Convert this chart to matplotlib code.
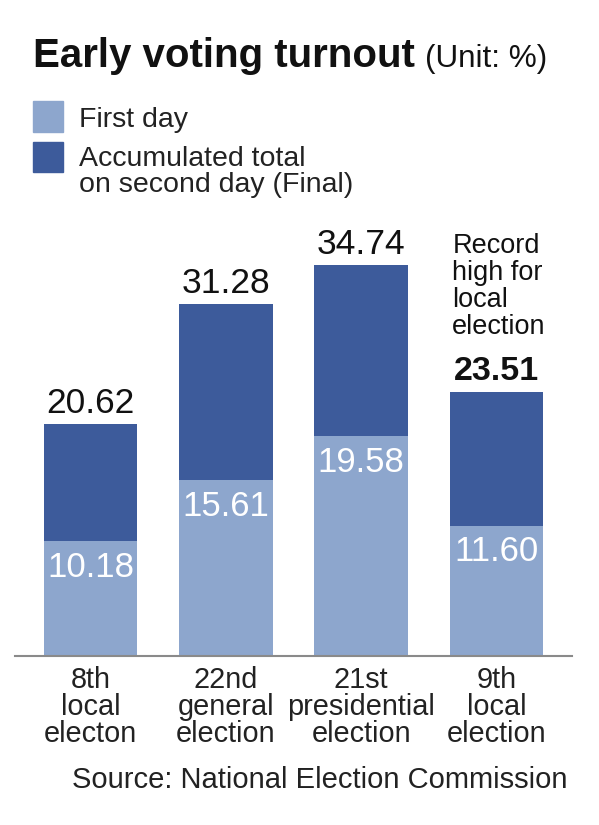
import matplotlib
matplotlib.use('Agg')
import matplotlib.pyplot as plt
from matplotlib.patches import Rectangle

# data
categories = ['8th\nlocal\nelecton', '22nd\ngeneral\nelection',
              '21st\npresidential\nelection', '9th\nlocal\nelection']
first_day = [10.18, 15.61, 19.58, 11.60]
final_total = [20.62, 31.28, 34.74, 23.51]
first_labels = ['10.18', '15.61', '19.58', '11.60']
total_labels = ['20.62', '31.28', '34.74', '23.51']

LIGHT = '#8da6cd'
DARK = '#3d5b9b'
plt.rcParams['font.family'] = 'Liberation Sans'

W, H = 599, 825
fig = plt.figure(figsize=(W / 100, H / 100), dpi=100)

def fx(px):
    return px / W

def fy(py):
    return 1 - py / H

# axes: baseline at y=656px, about 11.26 px per percent
ax = fig.add_axes([fx(15), fy(656), fx(572 - 15), 450 / H])
x = range(len(categories))
second = [t - f for t, f in zip(final_total, first_day)]
ax.bar(x, first_day, width=0.69, color=LIGHT, linewidth=0)
ax.bar(x, second, bottom=first_day, width=0.69, color=DARK, linewidth=0)
ax.set_xlim(-0.56, 3.56)
ax.set_ylim(0, 40)
for s in ['top', 'right', 'left']:
    ax.spines[s].set_visible(False)
ax.spines['bottom'].set_color('#8a8a8a')
ax.spines['bottom'].set_linewidth(1.5)
ax.set_yticks([])
ax.set_xticks(list(x))
ax.set_xticklabels(categories, fontsize=20.8, linespacing=0.97, color='#222222')
ax.tick_params(axis='x', length=0, pad=7)

for i in x:
    bold = i == 3
    ax.annotate(total_labels[i], (i, final_total[i]), xytext=(0, 3),
                textcoords='offset points', ha='center', va='bottom',
                fontsize=24.5 if bold else 25.5,
                fontweight='bold' if bold else 'normal', color='#111111')
    ax.annotate(first_labels[i], (i, first_day[i]), xytext=(0, -19),
                textcoords='offset points', ha='center', va='center',
                fontsize=25, color='white')

ax.text(2.675, 37.6, 'Record\nhigh for\nlocal\nelection', ha='left', va='top',
        fontsize=19.5, linespacing=1.05, color='#111111')

# title
fig.text(fx(33), fy(67), 'Early voting turnout', fontsize=29, fontweight='bold',
         ha='left', va='baseline', color='#111111')
fig.text(fx(425), fy(67), '(Unit: %)', fontsize=22.7, ha='left', va='baseline',
         color='#111111')

# legend
fig.patches.append(Rectangle((fx(33), fy(132)), fx(30), 31 / H, color=LIGHT,
                             transform=fig.transFigure, figure=fig))
fig.patches.append(Rectangle((fx(33), fy(172)), fx(30), 30 / H, color=DARK,
                             transform=fig.transFigure, figure=fig))
fig.text(fx(79), fy(127), 'First day', fontsize=20.5, ha='left', va='baseline',
         color='#222222')
fig.text(fx(79), fy(166), 'Accumulated total', fontsize=20.5, ha='left',
         va='baseline', color='#222222')
fig.text(fx(79), fy(192), 'on second day (Final)', fontsize=20.5, ha='left',
         va='baseline', color='#222222')

fig.text(fx(72), fy(788), 'Source: National Election Commission', fontsize=21,
         ha='left', va='baseline', color='#222222')

fig.savefig('out.png', dpi=100, facecolor='white')
